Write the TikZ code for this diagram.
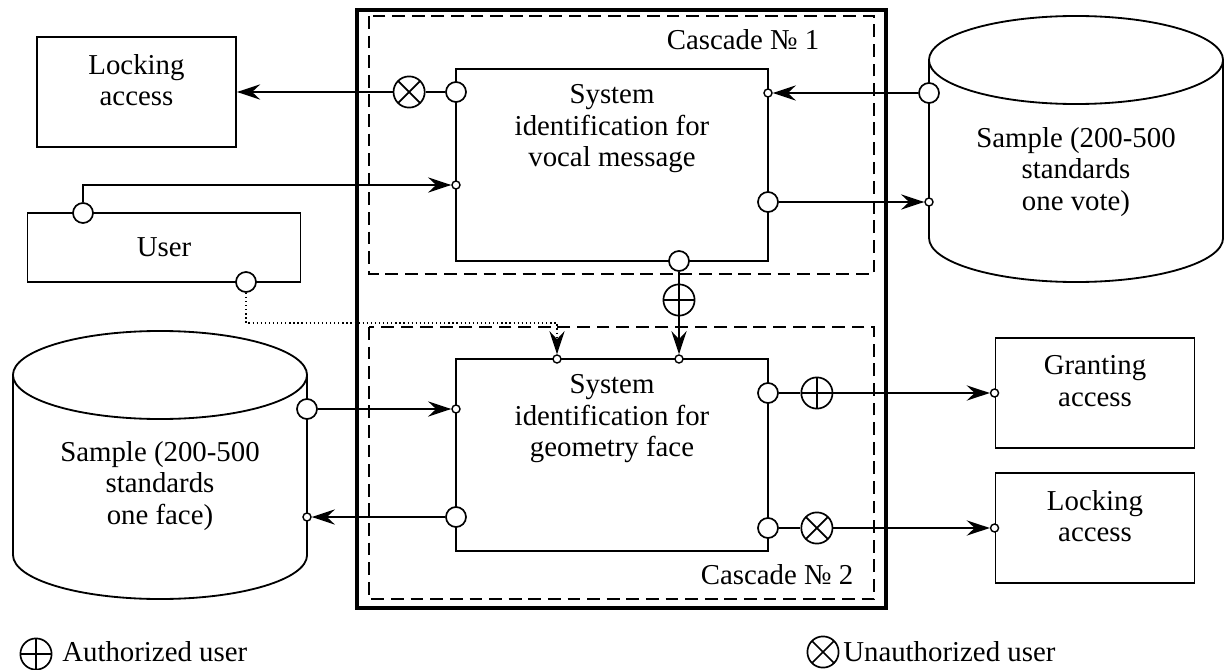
\documentclass[tikz,border=0pt]{standalone}
\usepackage{fontspec}
\setmainfont{Liberation Serif}
\usetikzlibrary{arrows.meta,positioning,calc}
\tikzset{
  unit/.style={draw,line width=1.3pt,minimum width=7.8cm,minimum height=4.8cm,inner sep=0pt},
  outbox/.style={draw,line width=1.3pt,minimum width=4.975cm,minimum height=2.75cm,inner sep=0pt},
  port/.style={circle,draw,fill=white,line width=1.2pt,minimum size=0.5cm,inner sep=0pt},
  pin/.style={circle,draw,fill=white,line width=1pt,minimum size=0.2cm,inner sep=0pt},
  okmark/.style={circle,draw,fill=white,line width=1.2pt,minimum size=0.78cm,inner sep=0pt,
    path picture={\draw[line width=1.2pt] (path picture bounding box.north)--(path picture bounding box.south)
      (path picture bounding box.west)--(path picture bounding box.east);}},
  nomark/.style={circle,draw,fill=white,line width=1.2pt,minimum size=0.78cm,inner sep=0pt,
    path picture={\draw[line width=1.2pt] (path picture bounding box.north west)--(path picture bounding box.south east)
      (path picture bounding box.south west)--(path picture bounding box.north east);}},
  link/.style={line width=1.3pt},
  arrow/.style={-{Stealth[length=5.8mm,width=3.8mm,inset=2mm]},line width=1.3pt},
  cascade/.style={draw,line width=1.3pt,dash pattern=on 0.32cm off 0.17cm},
  caption/.style={anchor=north,align=center,inner sep=0pt}
}

\begin{document}
\begin{tikzpicture}[x=0.025cm,y=-0.025cm,font=\fontsize{20.5}{22.5}\selectfont]
  \useasboundingbox (0,0) rectangle (1224,670);
  % frames of the two cascades
  \draw[line width=2.4pt] (357,10) rectangle (886,608);
  \draw[cascade] (369,16) rectangle (874,274);
  \draw[cascade] (369,327) rectangle (874,599);
  \node (casc1) at (743,40) {Cascade № 1};
  \node (casc2) at (777,575) {Cascade № 2};

  % identification units
  \node[unit] (voice) at (612,165) {};
  \node[caption] (voiceTxt) at ($(voice.north)+(0,16)$) {System\\identification for\\vocal message};
  \node[unit] (face) at (612,455) {};
  \node[caption] (faceTxt) at ($(face.north)+(0,16)$) {System\\identification for\\geometry face};

  % outer boxes
  \node[outbox] (lockA) at (136.5,92) {};
  \node[caption] (lockATxt) at ($(lockA.north)+(0,18)$) {Locking\\access};
  \node[outbox] (grant) at (1095,393) {};
  \node[caption] (grantTxt) at ($(grant.north)+(0,18)$) {Granting\\access};
  \node[outbox] (lockB) at (1095,528) {};
  \node[caption] (lockBTxt) at ($(lockB.north)+(0,18)$) {Locking\\access};
  \node[draw,line width=1.3pt,minimum width=6.825cm,minimum height=1.725cm] (user) at (164,247.5) {User};

  % databases
  \draw[link] (1076,60) ellipse [x radius=3.675cm,y radius=1.1cm];
  \draw[link] (929,60) -- (929,238) arc[start angle=180,end angle=360,x radius=3.675cm,y radius=1.1cm] -- (1223,60);
  \node[align=center] (voteTxt) at (1076,172) {Sample (200-500\\standards\\one vote)};
  \draw[link] (160,375) ellipse [x radius=3.675cm,y radius=1.1cm];
  \draw[link] (13,375) -- (13,555) arc[start angle=180,end angle=360,x radius=3.675cm,y radius=1.1cm] -- (307,375);
  \node[align=center] (faceBaseTxt) at (160,486) {Sample (200-500\\standards\\one face)};

  % ports
  \node[port] (vLock) at (456,92) {};
  \node[nomark,left=0.49cm of vLock] (vNo) {};
  \node[pin] (vUser) at (456,185) {};
  \node[pin] (vBase) at (768,93) {};
  \node[port] (vRes) at (768,202) {};
  \node[port] (vDown) at (679,261) {};
  \node[okmark] (vOk) at (679,300) {};
  \node[pin] (fUser) at (557,359) {};
  \node[pin] (fVoice) at (679,359) {};
  \node[pin] (fIn) at (456,409) {};
  \node[port] (fOut) at (456,517) {};
  \node[port] (fGrant) at (768,393) {};
  \node[port] (fLock) at (768,528) {};
  \node[okmark,right=0.54cm of fGrant] (fOk) {};
  \node[nomark,right=0.54cm of fLock] (fNo) {};
  \node[pin] (grantIn) at (grant.west) {};
  \node[pin] (lockBIn) at (lockB.west) {};
  \node[port] (uVoice) at (83,213) {};
  \node[port] (uFace) at (246,282) {};
  \node[port] (voteOut) at (929,93) {};
  \node[pin] (voteIn) at (929,202) {};
  \node[port] (faceOut) at (307,409) {};
  \node[pin] (faceIn) at (307,517) {};
  \coordinate (bend) at (557,323);

  % connections
  \draw[link] (vLock) -- (vNo);
  \draw[arrow] (vNo) -- (lockA.east);
  \draw[arrow] (uVoice) |- (vUser);
  \draw[arrow,line width=0.9pt,dotted] (uFace) |- (bend) -- (fUser);
  \draw[arrow] (voteOut) -- (vBase);
  \draw[arrow] (vRes) -- (voteIn);
  \draw[link] (vDown) -- (vOk);
  \draw[arrow] (vOk) -- (fVoice);
  \draw[arrow] (faceOut) -- (fIn);
  \draw[arrow] (fOut) -- (faceIn);
  \draw[link] (fGrant) -- (fOk);
  \draw[arrow] (fOk) -- (grantIn);
  \draw[link] (fLock) -- (fNo);
  \draw[arrow] (fNo) -- (lockBIn);

  % legend
  \node[okmark] (keyOk) at (36,654) {};
  \node[anchor=west,inner sep=0pt] (keyOkTxt) at (62,652) {Authorized user};
  \node[nomark] (keyNo) at (823,652) {};
  \node[anchor=west,inner sep=0pt] (keyNoTxt) at (843,652) {Unauthorized user};
\end{tikzpicture}
\end{document}
